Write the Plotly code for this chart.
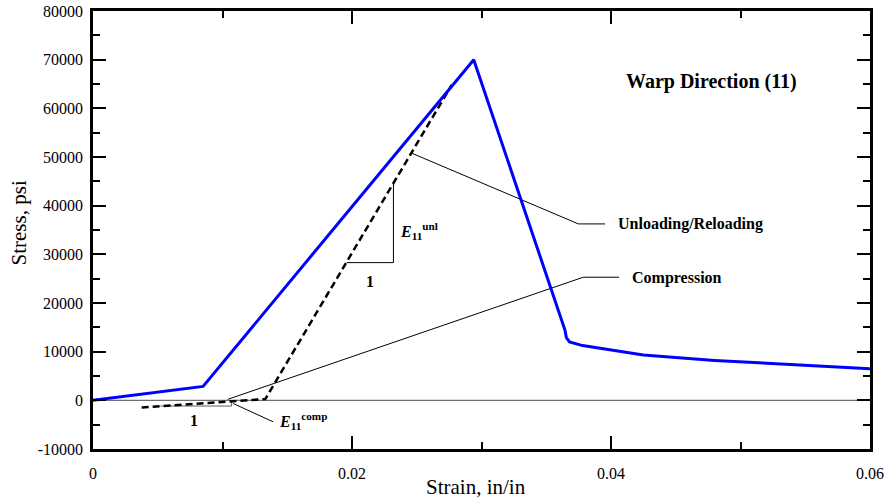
import plotly.graph_objects as go

# ---- data ----
blue_strain = [0.0, 0.0085, 0.0294, 0.03645, 0.03655, 0.0368, 0.0378, 0.0425, 0.0480, 0.0540, 0.0600]
blue_stress = [0, 2850, 70000, 14400, 12900, 12000, 11250, 9300, 8200, 7300, 6500]

dash_strain = [0.00376, 0.0098, 0.0133, 0.0277]
dash_stress = [-1450, -290, 250, 64800]

zero_strain = [0.0, 0.06]
zero_stress = [0, 0]

tri_unl_strain = [0.0196, 0.0232, 0.0232]
tri_unl_stress = [28300, 28300, 44500]

tri_comp_strain = [0.0052, 0.0107, 0.0107]
tri_comp_stress = [-1170, -1170, -250]

unl_leader_strain = [0.0246, 0.03748, 0.03954]
unl_leader_stress = [50800, 36250, 36250]

comp_leader_strain = [0.0104, 0.03786, 0.04062]
comp_leader_stress = [200, 25300, 25300]

ecomp_leader_strain = [0.0108, 0.0139]
ecomp_leader_stress = [-620, -4400]

x_ticks = [0, 0.02, 0.04, 0.06]
x_ticktext = ["0", "0.02", "0.04", "0.06"]
y_ticks = [-10000, 0, 10000, 20000, 30000, 40000, 50000, 60000, 70000, 80000]
y_ticktext = ["-10000", "0", "10000", "20000", "30000", "40000", "50000", "60000", "70000", "80000"]

FONT = "Liberation Serif"

fig = go.Figure()

def line(xs, ys, color="black", width=1, dash=None):
    fig.add_trace(go.Scatter(x=xs, y=ys, mode="lines", hoverinfo="skip",
                             line=dict(color=color, width=width, dash=dash),
                             showlegend=False))

line(zero_strain, zero_stress, color="#707070", width=1.2)
line(unl_leader_strain, unl_leader_stress)
line(comp_leader_strain, comp_leader_stress)
line(ecomp_leader_strain, ecomp_leader_stress)
line(tri_unl_strain, tri_unl_stress, color="black", width=1)
line(tri_comp_strain, tri_comp_stress, color="#606060", width=1)
line(dash_strain, dash_stress, color="black", width=2.5, dash="7px,4px")
line(blue_strain, blue_stress, color="#0000ff", width=3)

def txt(x, y, s, size=16, xanchor="left", yanchor="middle"):
    fig.add_annotation(x=x, y=y, xref="x", yref="y", text=s, showarrow=False,
                       xanchor=xanchor, yanchor=yanchor,
                       font=dict(family=FONT, size=size, color="black"))

txt(0.04778, 65460, "<b>Warp Direction (11)</b>", size=20, xanchor="center")
txt(0.04039, 36250, "<b>Unloading/Reloading</b>")
txt(0.0415, 25100, "<b>Compression</b>")
txt(0.02139, 24500, "<b>1</b>", xanchor="center")
txt(0.00782, -4050, "<b>1</b>", xanchor="center")
txt(0.02355, 34800, "<b><i>E</i><sub>11</sub><sup>unl</sup></b>")
txt(0.0142, -4250, "<b><i>E</i><sub>11</sub><sup>comp</sup></b>")

# axis titles
fig.add_annotation(x=0.493, y=-0.087, xref="paper", yref="paper", text="Strain, in/in",
                   showarrow=False, xanchor="center", yanchor="middle",
                   font=dict(family=FONT, size=21, color="black"))
fig.add_annotation(x=-0.0952, y=0.515, xref="paper", yref="paper", text="Stress, psi",
                   showarrow=False, xanchor="center", yanchor="middle", textangle=-90,
                   font=dict(family=FONT, size=21, color="black"))

axis_common = dict(showline=True, linecolor="black", linewidth=2.5, mirror="ticks",
                   ticks="inside", ticklen=13, tickwidth=2, tickcolor="black",
                   showgrid=False, zeroline=False, automargin=False,
                   tickfont=dict(family=FONT, size=16, color="black"))

fig.update_xaxes(range=[0, 0.06], tickvals=x_ticks, ticktext=x_ticktext,
                 ticklabelstandoff=8,
                 minor=dict(dtick=0.01, ticklen=7, tickwidth=2, ticks="inside", tickcolor="black"),
                 **axis_common)
fig.update_yaxes(range=[-10000, 80000], tickvals=y_ticks, ticktext=y_ticktext,
                 ticklabelstandoff=4,
                 minor=dict(dtick=5000, ticklen=7, tickwidth=2, ticks="inside", tickcolor="black"),
                 **axis_common)

fig.update_layout(width=884, height=498, margin=dict(l=93, r=14, t=11, b=49),
                  plot_bgcolor="white", paper_bgcolor="white", showlegend=False)

fig.write_html("out.html", config={"displayModeBar": False},
               post_script="document.body.style.margin='0';")
